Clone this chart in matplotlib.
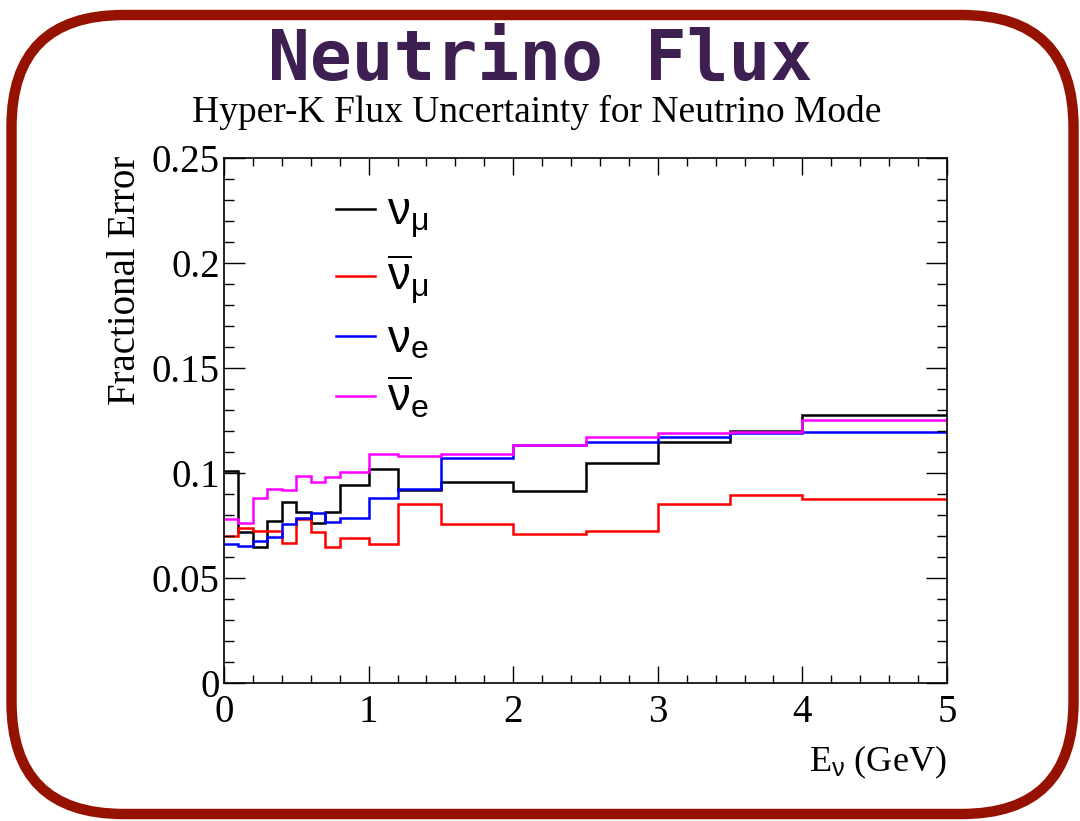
import matplotlib
matplotlib.use("Agg")
import matplotlib.pyplot as plt
from matplotlib.patches import FancyBboxPatch
from matplotlib.ticker import MultipleLocator

# Energy bin edges (GeV)
edges = [0.0, 0.1, 0.2, 0.3, 0.4, 0.5, 0.6, 0.7, 0.8, 1.0, 1.2, 1.5,
         2.0, 2.5, 3.0, 3.5, 4.0, 5.0]

# Fractional flux error per bin
numu = [0.101, 0.072, 0.065, 0.077, 0.0863, 0.0816, 0.0763, 0.0813, 0.0943,
        0.102, 0.092, 0.0959, 0.0914, 0.1046, 0.1146, 0.120, 0.1276]
numubar = [0.070, 0.074, 0.0725, 0.0725, 0.0668, 0.078, 0.0718, 0.065, 0.0692,
           0.0662, 0.0851, 0.0757, 0.0708, 0.0724, 0.0852, 0.0895, 0.0875]
nue = [0.0662, 0.0652, 0.0676, 0.0697, 0.0756, 0.0784, 0.0811, 0.0768, 0.0784,
       0.088, 0.0922, 0.107, 0.1132, 0.1146, 0.117, 0.1189, 0.1194]
nuebar = [0.078, 0.0763, 0.088, 0.0922, 0.0921, 0.0986, 0.0959, 0.098, 0.1006,
          0.1089, 0.1081, 0.1089, 0.1135, 0.117, 0.1192, 0.1197, 0.1252]

labels = [r'$\mathsf{\nu}_{\mathsf{\mu}}$',
          r'$\overline{\mathsf{\nu}}_{\mathsf{\mu}}$',
          r'$\mathsf{\nu}_{\mathsf{e}}$',
          r'$\overline{\mathsf{\nu}}_{\mathsf{e}}$']
colors = ['#000000', '#ff0000', '#0000ff', '#ff00ff']

plt.rcParams['font.family'] = ['Liberation Serif', 'DejaVu Serif']
plt.rcParams['mathtext.fontset'] = 'custom'
plt.rcParams['mathtext.rm'] = 'Liberation Serif'
plt.rcParams['mathtext.it'] = 'Liberation Serif:italic'
plt.rcParams['mathtext.sf'] = 'Liberation Sans'

W, H = 1080, 821
fig = plt.figure(figsize=(W / 100, H / 100), dpi=100)
fig.patch.set_facecolor('white')

# Rounded frame around the whole panel
bg = fig.add_axes([0, 0, 1, 1])
bg.set_xlim(0, W)
bg.set_ylim(0, H)
bg.axis('off')
frame = FancyBboxPatch((11.5, 7), 1062, 799,
                       boxstyle="round,pad=0,rounding_size=112",
                       facecolor='white', edgecolor='#961200', linewidth=7.5)
bg.add_patch(frame)

fig.text(0.5, 1 - 60 / H, 'Neutrino Flux', ha='center', va='center',
         family='DejaVu Sans Mono', fontweight='bold', fontsize=50,
         color='#3d1f52')
fig.text(0.497, 1 - 112 / H, 'Hyper-K Flux Uncertainty for Neutrino Mode',
         ha='center', va='center', fontsize=27, color='black')

ax = fig.add_axes([224 / W, 1 - 683 / H, (947 - 224) / W, (683 - 158) / H])
series = [numu, numubar, nue, nuebar]
for vals, c, lab in zip(series, colors, labels):
    ax.stairs(vals, edges, color=c, linewidth=1.8, label=lab, baseline=None)

ax.set_xlim(0, 5)
ax.set_ylim(0, 0.25)
ax.xaxis.set_major_locator(MultipleLocator(1))
ax.xaxis.set_minor_locator(MultipleLocator(0.2))
ax.yaxis.set_major_locator(MultipleLocator(0.05))
ax.yaxis.set_minor_locator(MultipleLocator(0.01))
ax.set_yticks([0, 0.05, 0.1, 0.15, 0.2, 0.25])
ax.set_yticklabels(['0', '0.05', '0.1', '0.15', '0.2', '0.25'])
ax.set_xticks([0, 1, 2, 3, 4, 5])
ax.set_xticklabels(['0', '1', '2', '3', '4', '5'])
ax.tick_params(which='both', direction='in', top=True, right=True,
               width=1.0, labelsize=28)
ax.tick_params(axis='x', which='major', length=12, pad=8)
ax.tick_params(axis='x', which='minor', length=6)
ax.tick_params(axis='y', which='major', length=15, pad=3)
ax.tick_params(axis='y', which='minor', length=7.5)
for s in ax.spines.values():
    s.set_linewidth(1.2)

ax.set_ylabel('Fractional Error', fontsize=28, loc='top')
ax.yaxis.set_label_coords(-0.111, 1.005)
ax.set_xlabel(r'E$_{\mathsf{\nu}}$ (GeV)', fontsize=26, loc='right')
ax.xaxis.set_label_coords(1.0, -0.115)

ax.legend(loc='upper left', bbox_to_anchor=(0.13, 0.97), frameon=False,
          fontsize=33, handlelength=0.85, handletextpad=0.25,
          labelspacing=0.28, borderaxespad=0)

fig.savefig('out.png', dpi=100, facecolor='white')
